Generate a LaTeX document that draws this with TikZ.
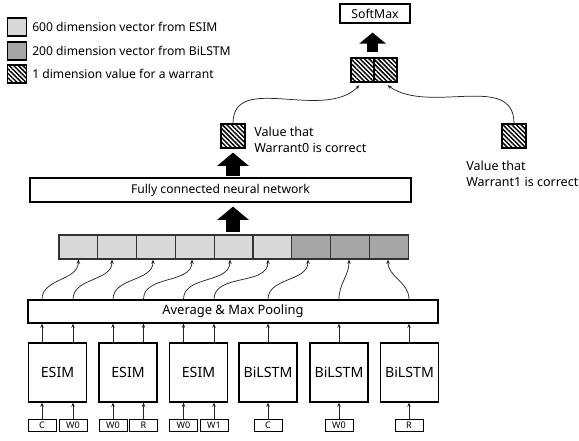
\documentclass[tikz,border=0pt]{standalone}
\usepackage{fontspec}
\setmainfont{Noto Sans}
\usetikzlibrary{patterns.meta,arrows.meta}
\definecolor{lightv}{HTML}{D9D9D9}
\definecolor{darkv}{HTML}{A6A6A6}
\tikzset{
  box/.style={draw=black, line width=0.9pt, inner sep=0pt, fill=white},
  legsq/.style={draw=black, line width=1.1pt, minimum width=14pt, minimum height=13.5pt, inner sep=0pt},
  hatch/.style={pattern={Lines[angle=-45,distance=2.4pt,line width=1.1pt]}},
  cellbox/.style={draw=black!80, line width=0.9pt, minimum width=29.1pt, minimum height=18pt, inner sep=0pt},
  modbox/.style={box, minimum width=43.5pt, minimum height=44.25pt, font=\fontsize{10.6}{12}\selectfont},
  inbox/.style={box, line width=0.7pt, minimum width=21pt, minimum height=9pt, font=\fontsize{6.8}{7}\selectfont},
  conn/.style={line width=0.55pt, black!85, -{Stealth[length=3.2pt,width=2.6pt]}},
  bigarrow/.style={line width=10.5pt, line cap=butt, -{Triangle[length=10pt,width=23.25pt]}},
  legtext/.style={anchor=west, inner sep=0pt, font=\fontsize{9.1}{10}\selectfont},
  valtext/.style={anchor=west, align=left, inner sep=0pt, font=\fontsize{9.4}{11.6}\selectfont},
}
\begin{document}
\begin{tikzpicture}[x=0.75pt,y=-0.75pt]
\useasboundingbox (0,0) rectangle (579,441);
% legend
\node[legsq, fill=lightv] (l1) at (17,27) {};
\node[legtext] (l1t) at (32,27) {600 dimension vector from ESIM};
\node[legsq, fill=darkv] (l2) at (17,51) {};
\node[legtext] (l2t) at (32,51) {200 dimension vector from BiLSTM};
\node[legsq, hatch] (l3) at (17,74) {};
\node[legtext] (l3t) at (32,74) {1 dimension value for a warrant};
% softmax
\node[box, minimum width=52.5pt, minimum height=14.25pt, font=\fontsize{9.2}{10}\selectfont] (soft) at (375,13.5) {SoftMax};
% pair
\node[draw=black, line width=0.9pt, hatch, minimum width=17.25pt, minimum height=18pt, inner sep=0pt] (pl) at (362.5,70) {};
\node[draw=black, line width=0.9pt, hatch, minimum width=17.25pt, minimum height=18pt, inner sep=0pt] (pr) at (385.5,70) {};
% warrant values
\node[draw=black, line width=0.9pt, hatch, minimum width=18pt, minimum height=18pt, inner sep=0pt] (w0) at (233,136) {};
\node[valtext] (w0t) at (254,140) {Value that\\Warrant0 is correct};
\node[draw=black, line width=0.9pt, hatch, minimum width=18pt, minimum height=18pt, inner sep=0pt] (w1) at (514,136) {};
\node[valtext] (w1t) at (466,174) {Value that\\Warrant1 is correct};
% fully connected
\node[box, minimum width=285.75pt, minimum height=18pt, font=\fontsize{9.1}{11}\selectfont] (fc) at (220.5,190) {Fully connected neural network};
% vector cells
\foreach \i/\c in {1/lightv,2/lightv,3/lightv,4/lightv,5/lightv,6/lightv,7/darkv,8/darkv,9/darkv}{
  \node[cellbox, fill=\c] (cell\i) at ({59+38.8*(\i-0.5)},247) {};
}
% pooling
\node[box, minimum width=307.5pt, minimum height=17.25pt, font=\fontsize{9.7}{11}\selectfont] (pool) at (233,311.5) {Average \& Max Pooling};
% modules
\node[modbox] (m1) at (57.5,372.5) {ESIM};
\node[modbox] (m2) at (128,372.5) {ESIM};
\node[modbox] (m3) at (198.5,372.5) {ESIM};
\node[modbox] (m4) at (268,372.5) {BiLSTM};
\node[modbox] (m5) at (339,372.5) {BiLSTM};
\node[modbox] (m6) at (409.5,372.5) {BiLSTM};
% inputs
\node[inbox] (i1) at (42,425) {C};
\node[inbox] (i2) at (73,425) {W0};
\node[inbox] (i3) at (113,425) {W0};
\node[inbox] (i4) at (143.5,425) {R};
\node[inbox] (i5) at (183.5,425) {W0};
\node[inbox] (i6) at (214,425) {W1};
\node[inbox] (i7) at (268,425) {C};
\node[inbox] (i8) at (339,425) {W0};
\node[inbox] (i9) at (409,425) {R};
% input -> module arrows
\foreach \i/\m in {1/m1,2/m1,3/m2,4/m2,5/m3,6/m3,7/m4,8/m5,9/m6}{
  \draw[conn] (i\i.north) -- (i\i.north |- \m.south);
  \draw[conn] (i\i |- \m.north) -- (i\i |- pool.south);
}
% pooling -> cells curves
\foreach \i/\s in {1/0,2/-3.9,3/-2.25,4/-2.1,5/-2.7,6/-3.3,7/-2.4,8/-0.75,9/-0.6}{
  \draw[conn] (i\i |- pool.north) to[out=90,in=-90] ([xshift=\s pt]cell\i.south);
}
% big arrows
\draw[bigarrow, shorten <=1pt, shorten >=3pt] (w0.south |- fc.north) -- (w0.south);
\draw[bigarrow, shorten <=1.5pt, shorten >=3pt] (w0.south |- cell5.north) -- (w0.south |- fc.south);
\draw[line width=8.25pt, line cap=butt, -{Triangle[length=8.25pt,width=19.5pt]}, shorten <=3.75pt, shorten >=6.75pt] ([xshift=-1.5pt]pl.north east) -- ([xshift=-1.5pt]pl.north east |- soft.south);
% value -> pair curves
\draw[conn] (w0.north) to[out=90,in=-135] ([xshift=-2.25pt,yshift=-2pt]pl.south);
\draw[conn] (w1.north) to[out=90,in=-35] ([xshift=1.5pt,yshift=-2pt]pr.south);
\end{tikzpicture}
\end{document}
